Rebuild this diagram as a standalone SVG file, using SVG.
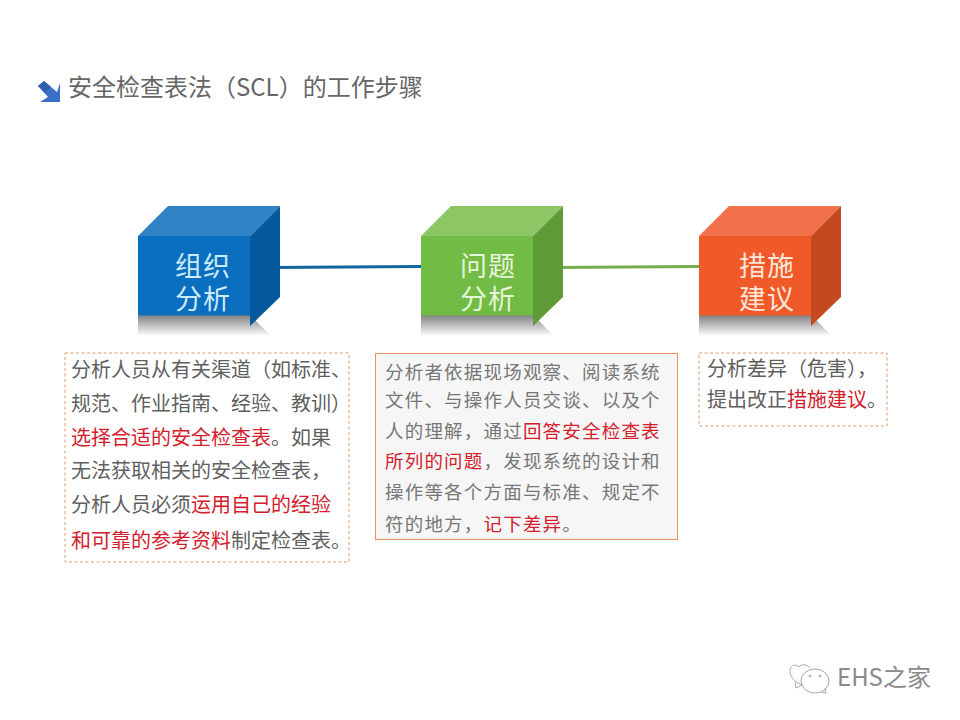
<svg xmlns="http://www.w3.org/2000/svg" width="960" height="720" viewBox="0 0 960 720">
<style>
text{font-family:"Microsoft YaHei","Noto Sans CJK SC","Liberation Sans",sans-serif}
.t{font-size:20px;fill:#5f5f5f}
.m{font-size:18.5px;fill:#767676;letter-spacing:1.2px}
.r{fill:#d3202c}
.c{font-size:27px;text-anchor:middle;letter-spacing:1px}
.d{fill:none;stroke:#e39a6a;stroke-width:1;stroke-dasharray:3 2.5}
</style>
<defs>
<linearGradient id="sh" x1="0" y1="0" x2="0" y2="1"><stop offset="0" stop-color="#808080"/><stop offset="1" stop-color="#ffffff"/></linearGradient>
<polygon id="shadow" points="138,315 250,315 269,334 269,336 138,336" fill="url(#sh)"/>
</defs>
<rect width="960" height="720" fill="#ffffff"/>
<g id="title">
<polygon points="38,86 44,81 57,92 60,83 60,102 40,102 48,97" fill="#3a6fc9"/>
<polygon points="38,86 44,81 51,87 45,92" fill="#2f5fa8"/>
<text x="68" y="96" font-size="24" style="fill:#666">安全检查表法（SCL）的工作步骤</text>
</g>
<g id="connectors">
<path d="M270 267.5L421 266.5" stroke="#13659f" stroke-width="3" fill="none"/>
<path d="M553 267.5L699 266.5" stroke="#76ac4c" stroke-width="3" fill="none"/>
</g>
<g id="node-zuzhi">
<use href="#shadow"/>
<polygon points="138,236 168,206 280,206 250,236" fill="#2f83c6"/>
<polygon points="250,236 280,206 280,297 250,326" fill="#045a9c"/>
<rect x="138" y="236" width="112" height="79.500" fill="#0b6fc0"/>
<text class="c" x="203" y="276" fill="#cdeafa">组织</text>
<text class="c" x="203" y="309" fill="#cdeafa">分析</text>
</g>
<g id="node-wenti">
<use href="#shadow" x="283"/>
<polygon points="421,236 451,206 563,206 533,236" fill="#8dc765"/>
<polygon points="533,236 563,206 563,297 533,326" fill="#5f9c37"/>
<rect x="421" y="236" width="112" height="79.500" fill="#72bb44"/>
<text class="c" x="488" y="276" fill="#e6f5d8">问题</text>
<text class="c" x="488" y="309" fill="#e6f5d8">分析</text>
</g>
<g id="node-cuoshi">
<use href="#shadow" x="561"/>
<polygon points="699,236 729,206 841,206 811,236" fill="#f2704a"/>
<polygon points="811,236 841,206 841,297 811,326" fill="#c4491f"/>
<rect x="699" y="236" width="112" height="79.500" fill="#f05a28"/>
<text class="c" x="767" y="276" fill="#fde6d8">措施</text>
<text class="c" x="767" y="309" fill="#fde6d8">建议</text>
</g>
<g id="box-1">
<rect class="d" x="65" y="353" width="284" height="209"/>
<text class="t" x="71" y="377">分析人员从有关渠道（如标准、</text>
<text class="t" x="71" y="411">规范、作业指南、经验、教训）</text>
<text class="t" x="71" y="445"><tspan class="r">选择合适的安全检查表</tspan>。如果</text>
<text class="t" x="71" y="478">无法获取相关的安全检查表，</text>
<text class="t" x="71" y="512">分析人员必须<tspan class="r">运用自己的经验</tspan></text>
<text class="t" x="71" y="548"><tspan class="r">和可靠的参考资料</tspan>制定检查表。</text>
</g>
<g id="box-2">
<rect x="375.500" y="353.500" width="302" height="186" fill="#f6f6f6" stroke="#e8935f"/>
<text class="m" x="385" y="379">分析者依据现场观察、阅读系统</text>
<text class="m" x="385" y="407">文件、与操作人员交谈、以及个</text>
<text class="m" x="385" y="438">人的理解，通过<tspan class="r">回答安全检查表</tspan></text>
<text class="m" x="385" y="468"><tspan class="r">所列的问题</tspan>，发现系统的设计和</text>
<text class="m" x="385" y="499">操作等各个方面与标准、规定不</text>
<text class="m" x="385" y="531">符的地方，<tspan class="r">记下差异</tspan>。</text>
</g>
<g id="box-3">
<rect class="d" x="699" y="353" width="188" height="73"/>
<text class="t" x="707" y="376">分析差异（危害），</text>
<text class="t" x="707" y="407">提出改正<tspan class="r">措施建议</tspan>。</text>
</g>
<g id="watermark" fill="none" stroke="#a8a8a8" stroke-width="1">
<path d="M803 685C795 683 790 677 790 671C790 664 797 664 799 667C801 664 807 664 810 668"/>
<path d="M795 682L796 688L802 685"/>
<ellipse cx="815" cy="681" rx="14" ry="12"/>
<path d="M821 692L826 693L825 688"/>
<circle cx="810" cy="676" r="1"/><circle cx="820" cy="676" r="1"/>
<text x="837" y="686" font-size="24" stroke="none" style="fill:#8a8a8a">EHS之家</text>
</g>
</svg>
